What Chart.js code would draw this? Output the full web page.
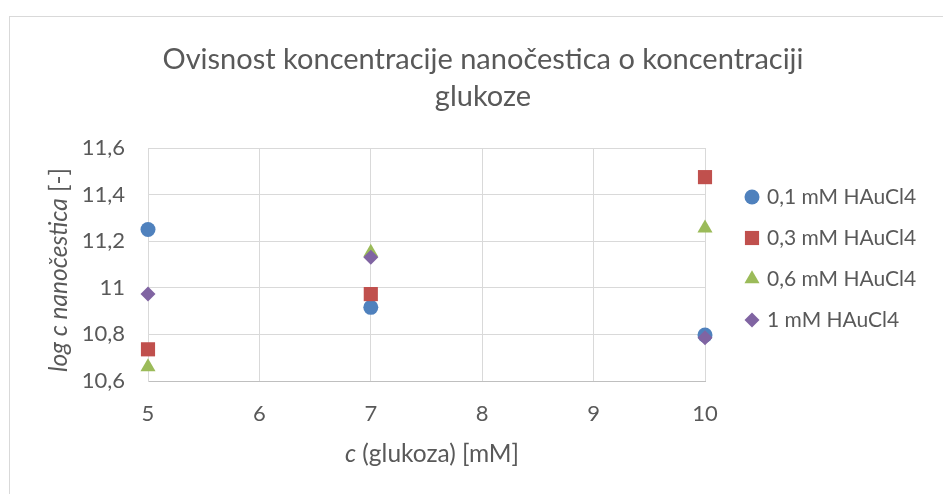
<!DOCTYPE html>
<html>
<head>
<meta charset="utf-8">
<script src="https://cdn.jsdelivr.net/npm/chart.js@4/dist/chart.umd.min.js"></script>
<style>
  html, body { margin: 0; padding: 0; background: #fff; }
  #wrap { width: 943px; height: 494px; }
</style>
</head>
<body>
<div id="wrap"><canvas id="c" width="943" height="494"></canvas></div>
<script>
// ── DATA ──
const glucose   = [5, 7, 10];
const seriesNames = ['0,1 mM HAuCl4', '0,3 mM HAuCl4', '0,6 mM HAuCl4', '1 mM HAuCl4'];
const s01 = [11.25, 10.916, 10.797];
const s03 = [10.736, 10.973, 11.475];
const s06 = [10.66, 11.152, 11.256];
const s1  = [10.973, 11.131, 10.786];
const xTicks = [5, 6, 7, 8, 9, 10];
const yTicks = [10.6, 10.8, 11, 11.2, 11.4, 11.6];

const FONT  = 'Lato';
const TXT   = '#595959';
const GRID  = '#d9d9d9';

const colors = ['#4F81BD', '#C0504D', '#9BBB59', '#8064A2'];
const styles = ['circle', 'rect', 'triangle', 'rectRot'];
const radii  = [7.5, 10, 8.7, 7.5];

const pts = ys => glucose.map((x, i) => ({ x, y: ys[i] }));
const fmt = v => String(Number(v.toFixed(1))).replace('.', ',');

const datasets = [s01, s03, s06, s1].map((ys, i) => ({
  label: seriesNames[i],
  data: pts(ys),
  pointStyle: styles[i],
  pointRadius: radii[i],
  pointHoverRadius: radii[i],
  backgroundColor: colors[i],
  borderColor: colors[i],
  pointBorderWidth: 0,
  showLine: false,
  clip: false,
  order: 4 - i
}));

// mixed italic / normal text, drawn left to right from a centre point
function mixedText(ctx, parts, cx, cy, size) {
  const w = parts.map(([t, it]) => { ctx.font = `${it ? 'italic ' : ''}${size}px ${FONT}`; return ctx.measureText(t).width; });
  let x = cx - w.reduce((a, b) => a + b, 0) / 2;
  ctx.textAlign = 'left';
  parts.forEach(([t, it], i) => {
    ctx.font = `${it ? 'italic ' : ''}${size}px ${FONT}`;
    ctx.fillText(t, x, cy);
    x += w[i];
  });
}

// ── DECOR: frame, titles, legend ──
const decor = {
  id: 'decor',
  beforeDraw(chart) {
    const ctx = chart.ctx;
    ctx.save();
    ctx.fillStyle = '#fff';
    ctx.fillRect(0, 0, chart.width, chart.height);
    ctx.strokeStyle = GRID;
    ctx.lineWidth = 1;
    ctx.strokeRect(9.5, 16.5, 960, 520);
    ctx.restore();
  },
  afterDraw(chart) {
    const ctx = chart.ctx;
    ctx.save();
    ctx.fillStyle = TXT;
    ctx.textBaseline = 'middle';

    // title
    ctx.textAlign = 'center';
    ctx.font = `29px ${FONT}`;
    ctx.fillText('Ovisnost koncentracije nanočestica o koncentraciji', 483, 60);
    ctx.fillText('glukoze', 483, 97);

    // x title
    mixedText(ctx, [['c', true], [' (glukoza) [mM]', false]], 432, 454, 24.5);

    // y title
    ctx.save();
    ctx.translate(59, 270);
    ctx.rotate(-Math.PI / 2);
    mixedText(ctx, [['log c nanočestica', true], [' [-]', false]], 0, 0, 24.5);
    ctx.restore();

    // legend
    ctx.font = `21px ${FONT}`;
    ctx.textAlign = 'left';
    datasets.forEach((ds, i) => {
      const y = 197 + i * 41;
      ctx.fillStyle = ds.backgroundColor;
      ctx.strokeStyle = ds.backgroundColor;
      Chart.helpers.drawPoint(ctx, { pointStyle: ds.pointStyle, radius: ds.pointRadius, rotation: 0, borderWidth: 0 }, 752, y);
      ctx.fillStyle = TXT;
      ctx.fillText(ds.label, 767, y);
    });
    ctx.restore();
  }
};

new Chart(document.getElementById('c'), {
  type: 'scatter',
  data: { datasets },
  plugins: [decor],
  options: {
    responsive: false,
    animation: false,
    devicePixelRatio: 1,
    layout: { padding: { left: 0, top: 148, right: 943 - 705, bottom: 0 } },
    plugins: { legend: { display: false }, title: { display: false }, tooltip: { enabled: false } },
    scales: {
      x: {
        type: 'linear', min: 5, max: 10,
        afterBuildTicks: s => { s.ticks = xTicks.map(v => ({ value: v })); },
        afterFit: s => { s.height = 494 - 381; },
        grid: { color: GRID, drawTicks: false },
        border: { color: '#bfbfbf', width: 1 },
        ticks: { color: TXT, padding: 20, font: { family: FONT, size: 22 }, callback: v => fmt(v) }
      },
      y: {
        type: 'linear', min: 10.6, max: 11.6,
        afterBuildTicks: s => { s.ticks = yTicks.map(v => ({ value: v })); },
        afterFit: s => { s.width = 148; },
        grid: { color: GRID, drawTicks: false },
        border: { color: GRID, width: 1 },
        ticks: { color: TXT, padding: 23, font: { family: FONT, size: 22 }, callback: v => fmt(v) }
      }
    }
  }
});
</script>
</body>
</html>
